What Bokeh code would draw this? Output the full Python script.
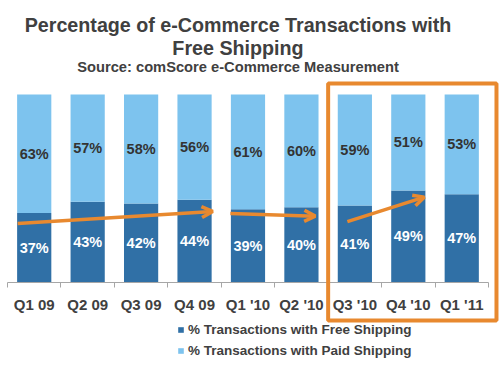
from bokeh.plotting import figure
from bokeh.models import (ColumnDataSource, Range1d, LinearAxis, FixedTicker, LabelSet,
                          Label, Legend, LegendItem, BoxAnnotation, Arrow, OpenHead)
from bokeh.core.properties import value
from bokeh.embed import file_html
from bokeh.resources import INLINE

# ---- data ----
quarters = ["Q1 09", "Q2 09", "Q3 09", "Q4 09", "Q1 '10", "Q2 '10", "Q3 '10", "Q4 '10", "Q1 '11"]
free_shipping = [37, 43, 42, 44, 39, 40, 41, 49, 47]
paid_shipping = [63, 57, 58, 56, 61, 60, 59, 51, 53]
series_names = ["% Transactions with Free Shipping", "% Transactions with Paid Shipping"]
title_line1 = "Percentage of e-Commerce Transactions with"
title_line2 = "Free Shipping"
subtitle = "Source: comScore e-Commerce Measurement"

# trend arrows (x in category units, y in %)
arrow_x0 = [0.19, 4.17, 6.36]
arrow_y0 = [31.4, 36.7, 32.4]
arrow_x1 = [3.84, 5.76, 7.80]
arrow_y1 = [37.8, 35.3, 45.4]

DARK = "#3070A6"
LIGHT = "#7DC3EE"
ORANGE = "#E8892F"
TEXT = "#404040"
FONT = "Liberation Sans"

xs = [i + 0.5 for i in range(len(quarters))]
src = ColumnDataSource(dict(
    x=xs,
    free=free_shipping,
    paid=paid_shipping,
    free_mid=[f / 2 for f in free_shipping],
    paid_mid=[f + p / 2 for f, p in zip(free_shipping, paid_shipping)],
    free_txt=[f"{v}%" for v in free_shipping],
    paid_txt=[f"{v}%" for v in paid_shipping],
))

W, H = 504, 369
p = figure(width=W, height=H, output_backend="svg", toolbar_location=None,
           x_range=Range1d(-0.131, 9.300), y_range=Range1d(-46.28, 150.0),
           x_axis_location=None, y_axis_location=None, min_border=0)
p.outline_line_color = None
p.xgrid.visible = False
p.ygrid.visible = False
p.background_fill_color = "white"
p.border_fill_color = "white"

rs = p.vbar_stack(["free", "paid"], x="x", width=0.64, source=src,
                  color=[DARK, LIGHT], line_color=None)

# axis with ticks at category boundaries and labels at centers
ax = LinearAxis(fixed_location=0,
                ticker=FixedTicker(ticks=xs, minor_ticks=list(range(len(quarters) + 1))),
                major_label_overrides={x: q for x, q in zip(xs, quarters)})
ax.bounds = (0, len(quarters))
ax.axis_line_color = "#A6A6A6"
ax.axis_line_width = 1
ax.major_tick_out = 0
ax.major_tick_in = 0
ax.minor_tick_out = 5
ax.minor_tick_in = 0
ax.minor_tick_line_color = "#A6A6A6"
ax.major_label_standoff = 9
ax.major_label_text_font = FONT
ax.major_label_text_font_style = "bold"
ax.major_label_text_font_size = "15px"
ax.major_label_text_color = TEXT
p.add_layout(ax, "below")

# value labels
for ycol, tcol, col in [("free_mid", "free_txt", "white"), ("paid_mid", "paid_txt", "#333333")]:
    p.add_layout(LabelSet(x="x", y=ycol, text=tcol, source=src, text_align="center",
                          text_baseline="middle", text_font=value(FONT),
                          text_font_style="bold", text_font_size="14.5px", text_color=col))

# arrows
for x0, y0, x1, y1 in zip(arrow_x0, arrow_y0, arrow_x1, arrow_y1):
    p.add_layout(Arrow(x_start=x0, y_start=y0, x_end=x1, y_end=y1,
                       line_color=ORANGE, line_width=3.5,
                       end=OpenHead(size=11, line_color=ORANGE, line_width=3.5)))

# highlight box around the last three quarters
p.add_layout(BoxAnnotation(left=6.0, right=9.15, bottom=-20.2, top=105.9,
                           fill_alpha=0, line_color=ORANGE, line_alpha=1, line_width=4))

# titles
for txt, yb, size in [(title_line1, 345, "19.7px"), (title_line2, 322, "19.7px"),
                      (subtitle, 303, "14.7px")]:
    p.add_layout(Label(x=237.5, y=yb, x_units="screen", y_units="screen", text=txt,
                       text_align="center", text_baseline="alphabetic", text_font=FONT,
                       text_font_style="bold", text_font_size=size, text_color=TEXT))

legend = Legend(items=[LegendItem(label=series_names[0], renderers=[rs[0]]),
                       LegendItem(label=series_names[1], renderers=[rs[1]])],
                location=(177, 9.5), orientation="vertical",
                glyph_width=7, glyph_height=7, label_height=18, spacing=3,
                padding=0, margin=0, label_standoff=4,
                label_text_font=FONT, label_text_font_style="bold",
                label_text_font_size="13.5px", label_text_color=TEXT,
                border_line_alpha=0, background_fill_alpha=0)
p.add_layout(legend)

open("out.html", "w").write(file_html(p, INLINE))
